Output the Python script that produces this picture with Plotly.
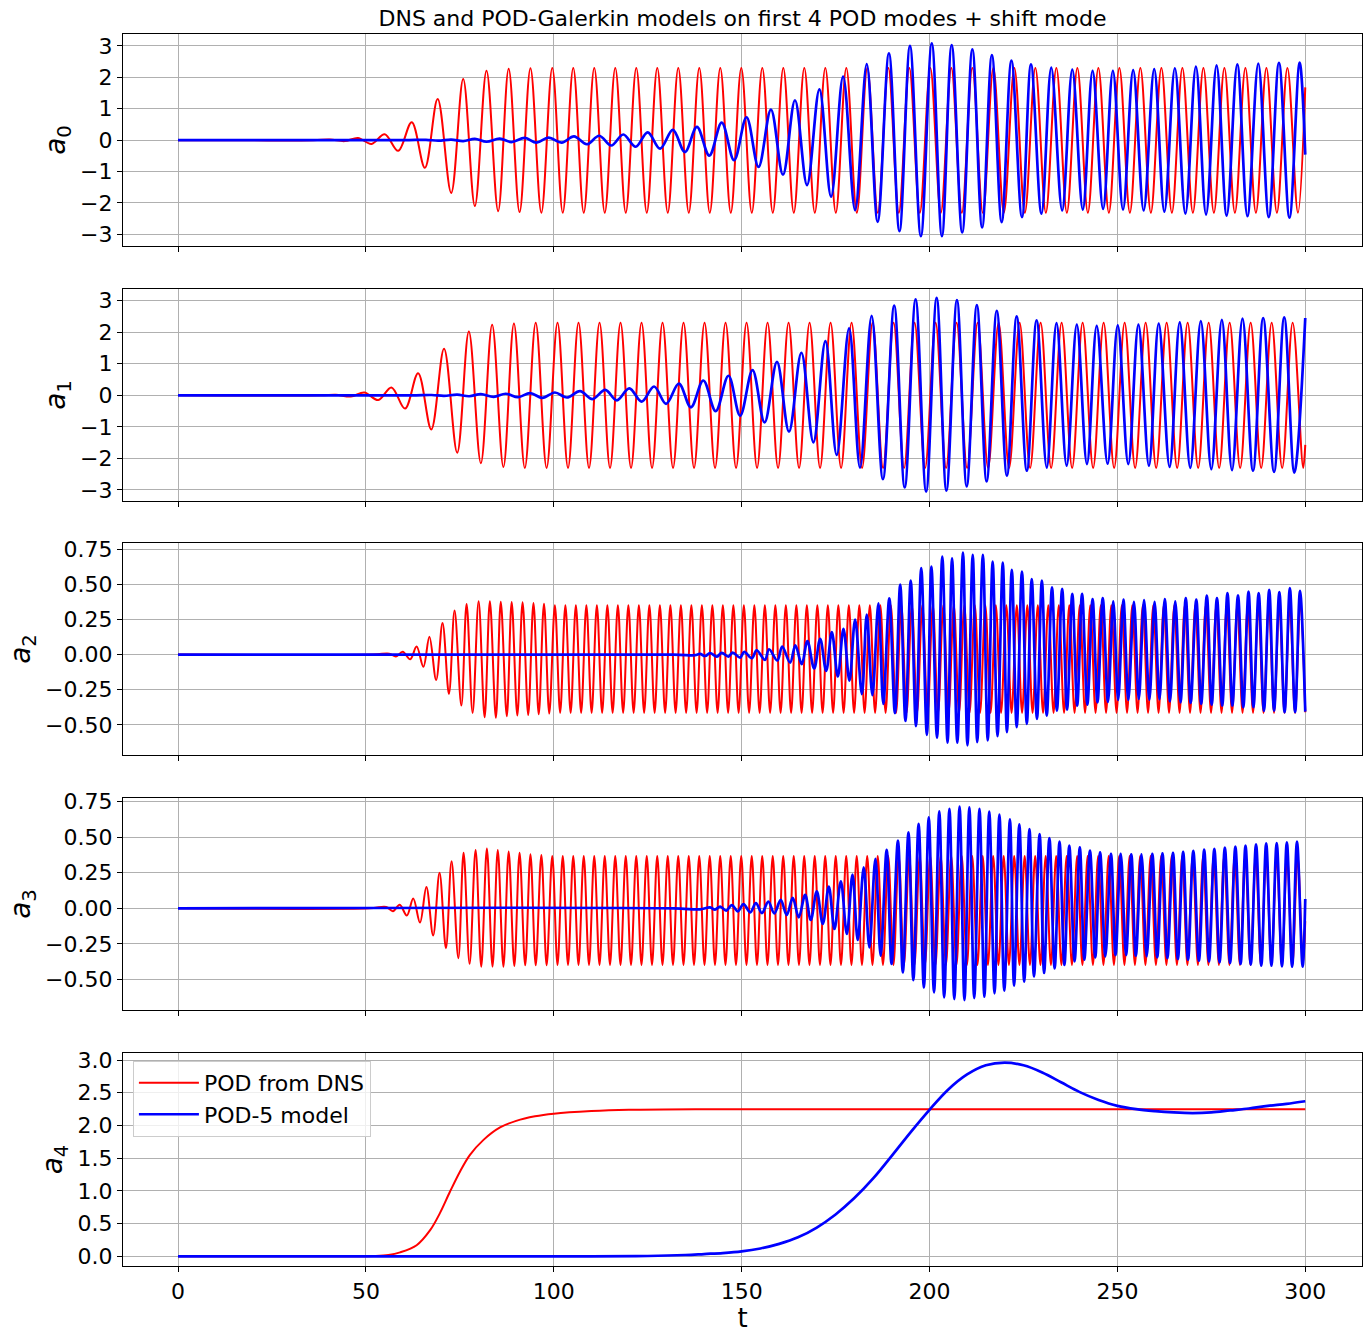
import numpy as np
import plotly.graph_objects as go
from plotly.subplots import make_subplots

T_END = 300.0

# ---------------- data ----------------
# Each oscillating signal is stored as its extrema (time, value);
# the steady part of the DNS signal is stored as first peak time, measured period and amplitudes.

# a0 - POD from DNS
a0_dns_t = [0, 36, 40.4, 44.4, 47.9, 51.5, 55.0, 58.6, 62.2, 65.7, 69.1, 72.7, 75.9, 79.0, 82.1, 85.2, 88.0, 90.9, 93.8, 96.7]
a0_dns_v = [0, 0, 0.02, -0.03, 0.07, -0.12, 0.19, -0.34, 0.57, -0.88, 1.31, -1.68, 1.95, -2.10, 2.21, -2.26, 2.27, -2.29, 2.29, -2.31]
a0_dns_steady = (99.6, 5.59, 2.30, -2.31)   # first peak, period, peak, trough
a0_dns_end = 1.68

# a1 - POD from DNS
a1_dns_t = [0, 38, 42.0, 46.0, 49.6, 53.3, 56.8, 60.4, 63.9, 67.4, 70.8, 74.3, 77.4, 80.6, 83.6, 86.6, 89.4, 92.3, 95.2, 98.1]
a1_dns_v = [0, 0, 0.02, -0.04, 0.09, -0.15, 0.25, -0.42, 0.70, -1.08, 1.48, -1.82, 2.02, -2.15, 2.24, -2.27, 2.28, -2.30, 2.30, -2.30]
a1_dns_steady = (101.0, 5.59, 2.30, -2.30)
a1_dns_end = -1.57

# a2 - POD from DNS
a2_dns_t = [0, 52, 56.2, 58.0, 59.8, 61.8, 63.5, 65.3, 66.9, 68.7, 70.4, 72.1, 73.6, 75.4, 76.8, 78.4, 80.0, 81.6,
            83.0, 84.6, 85.9, 87.5, 88.8, 90.3, 91.7, 93.2, 94.6, 96.0, 97.4, 98.8]
a2_dns_v = [0, 0, 0.007, -0.014, 0.02, -0.033, 0.057, -0.087, 0.127, -0.18, 0.226, -0.28, 0.314, -0.363, 0.361, -0.415,
            0.38, -0.446, 0.38, -0.45, 0.377, -0.439, 0.375, -0.434, 0.373, -0.43, 0.368, -0.425, 0.363, -0.42]
a2_dns_steady = (100.3, 2.794, 0.352, -0.415)
a2_dns_end = -0.41

# a3 - POD from DNS
a3_dns_t = [0, 51, 55.4, 57.2, 59.0, 60.9, 62.6, 64.4, 66.1, 67.9, 69.6, 71.3, 72.8, 74.6, 76.0, 77.6, 79.2, 80.7,
            82.2, 83.7, 85.1, 86.6, 88.0, 89.5, 90.9, 92.4, 93.8, 95.2, 96.7, 98.1]
a3_dns_v = [0, 0, 0.01, -0.02, 0.025, -0.05, 0.07, -0.10, 0.15, -0.19, 0.25, -0.28, 0.33, -0.35, 0.39, -0.39, 0.41, -0.41,
            0.42, -0.41, 0.41, -0.41, 0.40, -0.405, 0.39, -0.40, 0.38, -0.40, 0.375, -0.40]
a3_dns_steady = (99.6, 2.794, 0.368, -0.398)
a3_dns_end = -0.09

# a0 - POD-5 model
a0_mod_t = [0, 60, 66.0, 69.3, 72.7, 75.9, 79.0, 82.1, 85.6, 88.7, 92.3, 95.4,
            98.6, 102.1, 105.4, 108.8, 112.1, 115.3, 118.5, 121.8, 125.0, 128.3, 131.7, 134.9, 138.1, 141.4,
            144.7, 148.0, 151.3, 154.5, 157.8, 161.0, 164.2, 167.4, 170.7, 173.8, 177.0, 180.2, 183.3, 186.2,
            189.2, 192.0, 194.8, 197.7, 200.6, 203.3, 205.9, 208.7, 211.4, 214.0, 216.6, 219.2, 221.8, 224.6,
            227.0, 229.8, 232.4, 235.3, 238.0, 240.8, 243.4, 246.2, 248.8, 251.5, 254.2, 257.0, 259.8, 262.5,
            265.3, 268.1, 270.9, 273.6, 276.4, 279.1, 281.9, 284.6, 287.5, 290.3, 293.0, 295.8, 298.5, 300]
a0_mod_v = [0, 0, 0.01, -0.015, 0.02, -0.03, 0.04, -0.05, 0.05, -0.06, 0.07, -0.08,
            0.08, -0.08, 0.12, -0.13, 0.14, -0.17, 0.18, -0.21, 0.25, -0.27, 0.33, -0.38, 0.42, -0.49,
            0.56, -0.64, 0.73, -0.85, 0.97, -1.10, 1.27, -1.43, 1.62, -1.80, 2.02, -2.23, 2.42, -2.60,
            2.76, -2.90, 3.00, -3.06, 3.08, -3.06, 3.03, -2.94, 2.89, -2.78, 2.71, -2.61, 2.53, -2.45,
            2.41, -2.34, 2.31, -2.24, 2.25, -2.21, 2.21, -2.19, 2.21, -2.21, 2.23, -2.24, 2.26, -2.28,
            2.29, -2.34, 2.34, -2.37, 2.38, -2.40, 2.41, -2.42, 2.44, -2.45, 2.46, -2.47, 2.47, -0.46]

# a1 - POD-5 model
a1_mod_t = [0, 62, 67.5, 70.8, 74.3, 77.5, 80.6, 84.0, 87.2, 90.5, 93.7, 97.0,
            100.3, 103.5, 107.0, 110.3, 113.7, 116.8, 120.1, 123.4, 126.7, 129.9, 133.3, 136.5, 139.8, 143.1,
            146.5, 149.6, 152.9, 156.1, 159.4, 162.6, 165.9, 169.1, 172.3, 175.3, 178.6, 181.5, 184.6, 187.6,
            190.6, 193.4, 196.3, 199.1, 201.9, 204.5, 207.3, 209.9, 212.6, 215.2, 217.9, 220.6, 223.2, 225.9,
            228.5, 231.2, 233.8, 236.5, 239.2, 241.9, 244.5, 247.4, 250.1, 252.9, 255.6, 258.4, 261.0, 263.9,
            266.6, 269.4, 272.2, 275.0, 277.8, 280.5, 283.3, 286.1, 288.8, 291.7, 294.4, 297.1, 300]
a1_mod_v = [0, 0, 0.01, -0.015, 0.02, -0.03, 0.04, -0.05, 0.05, -0.06, 0.07, -0.08,
            0.09, -0.07, 0.13, -0.12, 0.17, -0.16, 0.22, -0.20, 0.28, -0.27, 0.37, -0.38, 0.47, -0.50,
            0.62, -0.65, 0.80, -0.86, 1.06, -1.15, 1.35, -1.49, 1.72, -1.89, 2.12, -2.29, 2.52, -2.66,
            2.84, -2.92, 3.04, -3.05, 3.09, -3.02, 3.02, -2.89, 2.86, -2.73, 2.68, -2.55, 2.50, -2.39,
            2.38, -2.29, 2.29, -2.23, 2.24, -2.18, 2.20, -2.17, 2.22, -2.18, 2.24, -2.23, 2.27, -2.27,
            2.31, -2.30, 2.35, -2.34, 2.39, -2.37, 2.43, -2.39, 2.45, -2.43, 2.47, -2.45, 2.45]

# a2 - POD-5 model
a2_mod_t = [0, 132, 137.6, 138.9, 140.3, 141.6, 143.4, 144.7, 146.5, 147.6, 149.6, 150.7, 152.7, 154.0, 156.2, 157.3,
            159.5, 160.8, 162.9, 164.3, 166.0, 167.5, 169.3, 170.9, 172.5, 174.0, 175.6, 177.1, 178.7, 180.2,
            182.0, 183.3, 184.8, 186.4, 187.7, 189.3, 190.8, 192.2, 193.6, 195.0, 196.4, 197.8, 199.3, 200.5,
            202.0, 203.4, 204.8, 206.0, 207.4, 208.9, 210.1, 211.5, 212.7, 214.2, 215.5, 216.8, 218.1, 219.5,
            220.6, 221.9, 223.2, 224.6, 225.9, 227.2, 228.6, 229.9, 231.2, 232.6, 233.9, 235.3, 236.6, 238.0,
            239.3, 240.6, 242.0, 243.4, 244.7, 246.1, 247.5, 248.9, 250.2, 251.6, 252.9, 254.4, 255.7, 257.1,
            258.5, 259.9, 261.2, 262.6, 264.0, 265.4, 266.8, 268.2, 269.5, 271.0, 272.3, 273.8, 275.1, 276.5,
            277.9, 279.3, 280.6, 282.1, 283.5, 284.9, 286.2, 287.6, 289.0, 290.4, 291.7, 293.1, 294.5, 295.9,
            297.3, 298.6, 300]
a2_mod_v = [0, 0, -0.004, 0.005, -0.01, 0.01, -0.014, 0.012, -0.014, 0.014, -0.021, 0.02, -0.026, 0.031, -0.038, 0.038,
            -0.042, 0.057, -0.057, 0.066, -0.068, 0.097, -0.099, 0.113, -0.116, 0.16, -0.156, 0.184, -0.186, 0.25,
            -0.281, 0.285, -0.288, 0.366, -0.351, 0.401, -0.417, 0.498, -0.472, 0.528, -0.509, 0.616, -0.571, 0.627,
            -0.592, 0.698, -0.627, 0.686, -0.627, 0.726, -0.646, 0.71, -0.623, 0.71, -0.611, 0.663, -0.58, 0.656,
            -0.552, 0.604, -0.517, 0.592, -0.493, 0.538, -0.458, 0.528, -0.434, 0.479, -0.399, 0.469, -0.392, 0.432,
            -0.363, 0.432, -0.356, 0.396, -0.340, 0.403, -0.337, 0.380, -0.323, 0.391, -0.323, 0.375, -0.316, 0.389,
            -0.321, 0.375, -0.318, 0.396, -0.333, 0.380, -0.340, 0.403, -0.344, 0.391, -0.351, 0.420, -0.356, 0.403,
            -0.363, 0.439, -0.363, 0.422, -0.375, 0.448, -0.375, 0.439, -0.399, 0.462, -0.399, 0.446, -0.41, 0.474,
            -0.41, 0.455, -0.406]

# a3 - POD-5 model
a3_mod_t = [0, 132, 138.9, 141.6, 142.9, 144.3, 145.9, 147.4, 149.0, 150.5, 152.3, 153.8, 155.4, 157.1, 158.7, 160.4,
            162.0, 163.6, 165.2, 166.9, 168.4, 170.0, 171.6, 173.2, 174.7, 176.4, 178.0, 179.5, 180.9, 182.5,
            184.0, 185.6, 187.0, 188.6, 189.9, 191.6, 192.9, 194.4, 195.7, 197.1, 198.5, 199.8, 201.2, 202.6,
            203.9, 205.3, 206.6, 208.0, 209.3, 210.6, 211.9, 213.3, 214.6, 215.9, 217.3, 218.6, 219.9, 221.4,
            222.5, 223.9, 225.2, 226.6, 227.8, 229.3, 230.5, 231.9, 233.3, 234.6, 235.9, 237.2, 238.6, 240.0,
            241.2, 242.7, 244.1, 245.4, 246.8, 248.3, 249.5, 250.9, 252.3, 253.7, 254.9, 256.4, 257.8, 259.3,
            260.6, 262.0, 263.3, 264.8, 266.1, 267.5, 268.8, 270.2, 271.7, 273.1, 274.4, 275.8, 277.2, 278.6,
            280.0, 281.4, 282.8, 284.1, 285.5, 286.9, 288.3, 289.6, 291.0, 292.4, 293.8, 295.1, 296.5, 297.8,
            299.3, 300]
a3_mod_v = [0, 0, -0.007, 0.007, -0.009, 0.012, -0.016, 0.023, -0.021, 0.030, -0.028, 0.037, -0.033, 0.047, -0.035, 0.059,
            -0.047, 0.073, -0.063, 0.094, -0.082, 0.119, -0.11, 0.152, -0.145, 0.19, -0.18, 0.237, -0.222, 0.288,
            -0.274, 0.347, -0.333, 0.41, -0.391, 0.475, -0.45, 0.534, -0.504, 0.593, -0.556, 0.639, -0.59, 0.681,
            -0.625, 0.698, -0.637, 0.714, -0.644, 0.709, -0.63, 0.698, -0.621, 0.679, -0.597, 0.658, -0.578, 0.625,
            -0.543, 0.59, -0.515, 0.557, -0.478, 0.522, -0.454, 0.494, -0.422, 0.468, -0.398, 0.44, -0.372, 0.429,
            -0.361, 0.405, -0.344, 0.393, -0.337, 0.382, -0.328, 0.382, -0.328, 0.379, -0.333, 0.379, -0.337, 0.382,
            -0.344, 0.386, -0.349, 0.389, -0.356, 0.396, -0.361, 0.403, -0.368, 0.412, -0.372, 0.417, -0.379, 0.426,
            -0.384, 0.433, -0.391, 0.44, -0.396, 0.45, -0.403, 0.457, -0.403, 0.459, -0.407, 0.464, -0.41, 0.468,
            -0.41, 0.066]

# a4 (shift mode)
a4_dns_t = [0, 45, 52, 56, 59.1, 63.5, 67.1, 69.7, 72.4, 75.1, 77.7, 81.3, 85.7, 90, 95, 100, 110, 120, 140, 200, 300]
a4_dns_v = [0, 0.0, 0.005, 0.02, 0.06, 0.17, 0.40, 0.66, 0.99, 1.30, 1.55, 1.78, 1.97, 2.07, 2.14, 2.18, 2.22, 2.24, 2.25, 2.25, 2.25]
a4_mod_t = [0, 110, 125, 135, 140, 145, 150, 155, 160, 165, 170, 175, 180, 185, 190, 195, 200, 205, 210, 215,
            220, 225, 230, 235, 240, 245, 250, 255, 260, 265, 270, 275, 280, 285, 290, 295, 300]
a4_mod_v = [0, 0.0, 0.005, 0.02, 0.035, 0.05, 0.075, 0.12, 0.19, 0.29, 0.44, 0.64, 0.89, 1.19, 1.54, 1.90, 2.24, 2.55,
            2.78, 2.92, 2.96, 2.92, 2.81, 2.66, 2.51, 2.39, 2.30, 2.25, 2.22, 2.20, 2.19, 2.20, 2.23, 2.26, 2.30, 2.33, 2.37]

series_names = ["POD from DNS", "POD-5 model"]
y_labels = ["<i>a</i><sub>0</sub>", "<i>a</i><sub>1</sub>", "<i>a</i><sub>2</sub>", "<i>a</i><sub>3</sub>", "<i>a</i><sub>4</sub>"]
title_text = "DNS and POD-Galerkin models on first 4 POD modes + shift mode"
x_ticks = [0, 50, 100, 150, 200, 250, 300]


def with_steady(t0, v0, steady, end_val):
    first_peak, period, peak, trough = steady
    t = list(t0)
    v = list(v0)
    half = period / 2.0
    k = 0
    while first_peak + k * half < T_END - 0.2:
        t.append(first_peak + k * half)
        v.append(peak if k % 2 == 0 else trough)
        k += 1
    t.append(T_END)
    v.append(end_val)
    return t, v


dns = [
    with_steady(a0_dns_t, a0_dns_v, a0_dns_steady, a0_dns_end),
    with_steady(a1_dns_t, a1_dns_v, a1_dns_steady, a1_dns_end),
    with_steady(a2_dns_t, a2_dns_v, a2_dns_steady, a2_dns_end),
    with_steady(a3_dns_t, a3_dns_v, a3_dns_steady, a3_dns_end),
    (a4_dns_t, a4_dns_v),
]
mod = [
    (a0_mod_t, a0_mod_v),
    (a1_mod_t, a1_mod_v),
    (a2_mod_t, a2_mod_v),
    (a3_mod_t, a3_mod_v),
    (a4_mod_t, a4_mod_v),
]

# ---------------- figure ----------------
W, H = 1371, 1335
ML, MR, MT, MB = 123, 9, 34, 69
PH = H - MT - MB
panels_px = [(34, 246), (289, 501), (543, 755), (798, 1010), (1053, 1266)]
domains = [[(1266 - b) / PH, (1266 - t) / PH] for t, b in panels_px]
y_ranges = [[-3.37, 3.38], [-3.35, 3.37], [-0.715, 0.795], [-0.714, 0.775], [-0.148, 3.108]]
y_ticks = [[-3, -2, -1, 0, 1, 2, 3], [-3, -2, -1, 0, 1, 2, 3],
           [-0.5, -0.25, 0, 0.25, 0.5, 0.75], [-0.5, -0.25, 0, 0.25, 0.5, 0.75],
           [0, 0.5, 1.0, 1.5, 2.0, 2.5, 3.0]]
y_fmt = ["d", "d", ".2f", ".2f", ".1f"]

fig = make_subplots(rows=5, cols=1, shared_xaxes=False)
FONT = "DejaVu Sans"
for i in range(5):
    r = i + 1
    fig.add_trace(go.Scatter(x=dns[i][0], y=dns[i][1], mode="lines",
                             line=dict(color="#ff0000", width=2, shape="spline", smoothing=1.0),
                             name=series_names[0], showlegend=(i == 4)), row=r, col=1)
    fig.add_trace(go.Scatter(x=mod[i][0], y=mod[i][1], mode="lines",
                             line=dict(color="#0000ff", width=2.7, shape="spline", smoothing=1.0),
                             name=series_names[1], showlegend=(i == 4)), row=r, col=1)

for i in range(5):
    xa = "xaxis" if i == 0 else f"xaxis{i+1}"
    ya = "yaxis" if i == 0 else f"yaxis{i+1}"
    fig.layout[xa].update(domain=[0, 1], range=[-14.64, 315.1], tickvals=x_ticks,
                          showticklabels=(i == 4), ticks="outside", ticklen=5, tickcolor="black",
                          showgrid=True, gridcolor="#b0b0b0", gridwidth=1, zeroline=False,
                          showline=True, linecolor="black", linewidth=1.2, mirror=True,
                          tickfont=dict(family=FONT, size=22, color="black"))
    fig.layout[ya].update(domain=domains[i], range=y_ranges[i], tickvals=y_ticks[i], tickformat=y_fmt[i],
                          ticks="outside", ticklen=5, tickcolor="black",
                          showgrid=True, gridcolor="#b0b0b0", gridwidth=1, zeroline=False,
                          showline=True, linecolor="black", linewidth=1.2, mirror=True,
                          tickfont=dict(family=FONT, size=22, color="black"),
                          title=dict(text=y_labels[i], font=dict(family=FONT, size=28, color="black"), standoff=6))

fig.layout["xaxis5"].title = dict(text="t", font=dict(family=FONT, size=26, color="black"), standoff=0)

fig.update_layout(
    width=W, height=H,
    margin=dict(l=ML, r=MR, t=MT, b=MB, autoexpand=False),
    paper_bgcolor="white", plot_bgcolor="white",
    title=dict(text=title_text, x=0.5, xref="paper", xanchor="center", y=1 - 18 / H, yref="container",
               yanchor="middle", font=dict(family=FONT, size=22, color="black")),
    legend=dict(x=0.008, y=0.1665, xanchor="left", yanchor="top", bgcolor="rgba(255,255,255,0.8)",
                bordercolor="#cccccc", borderwidth=1, font=dict(family=FONT, size=22, color="black"),
                itemwidth=60, tracegroupgap=0),
    showlegend=True,
)

fig.write_html("out.html")
